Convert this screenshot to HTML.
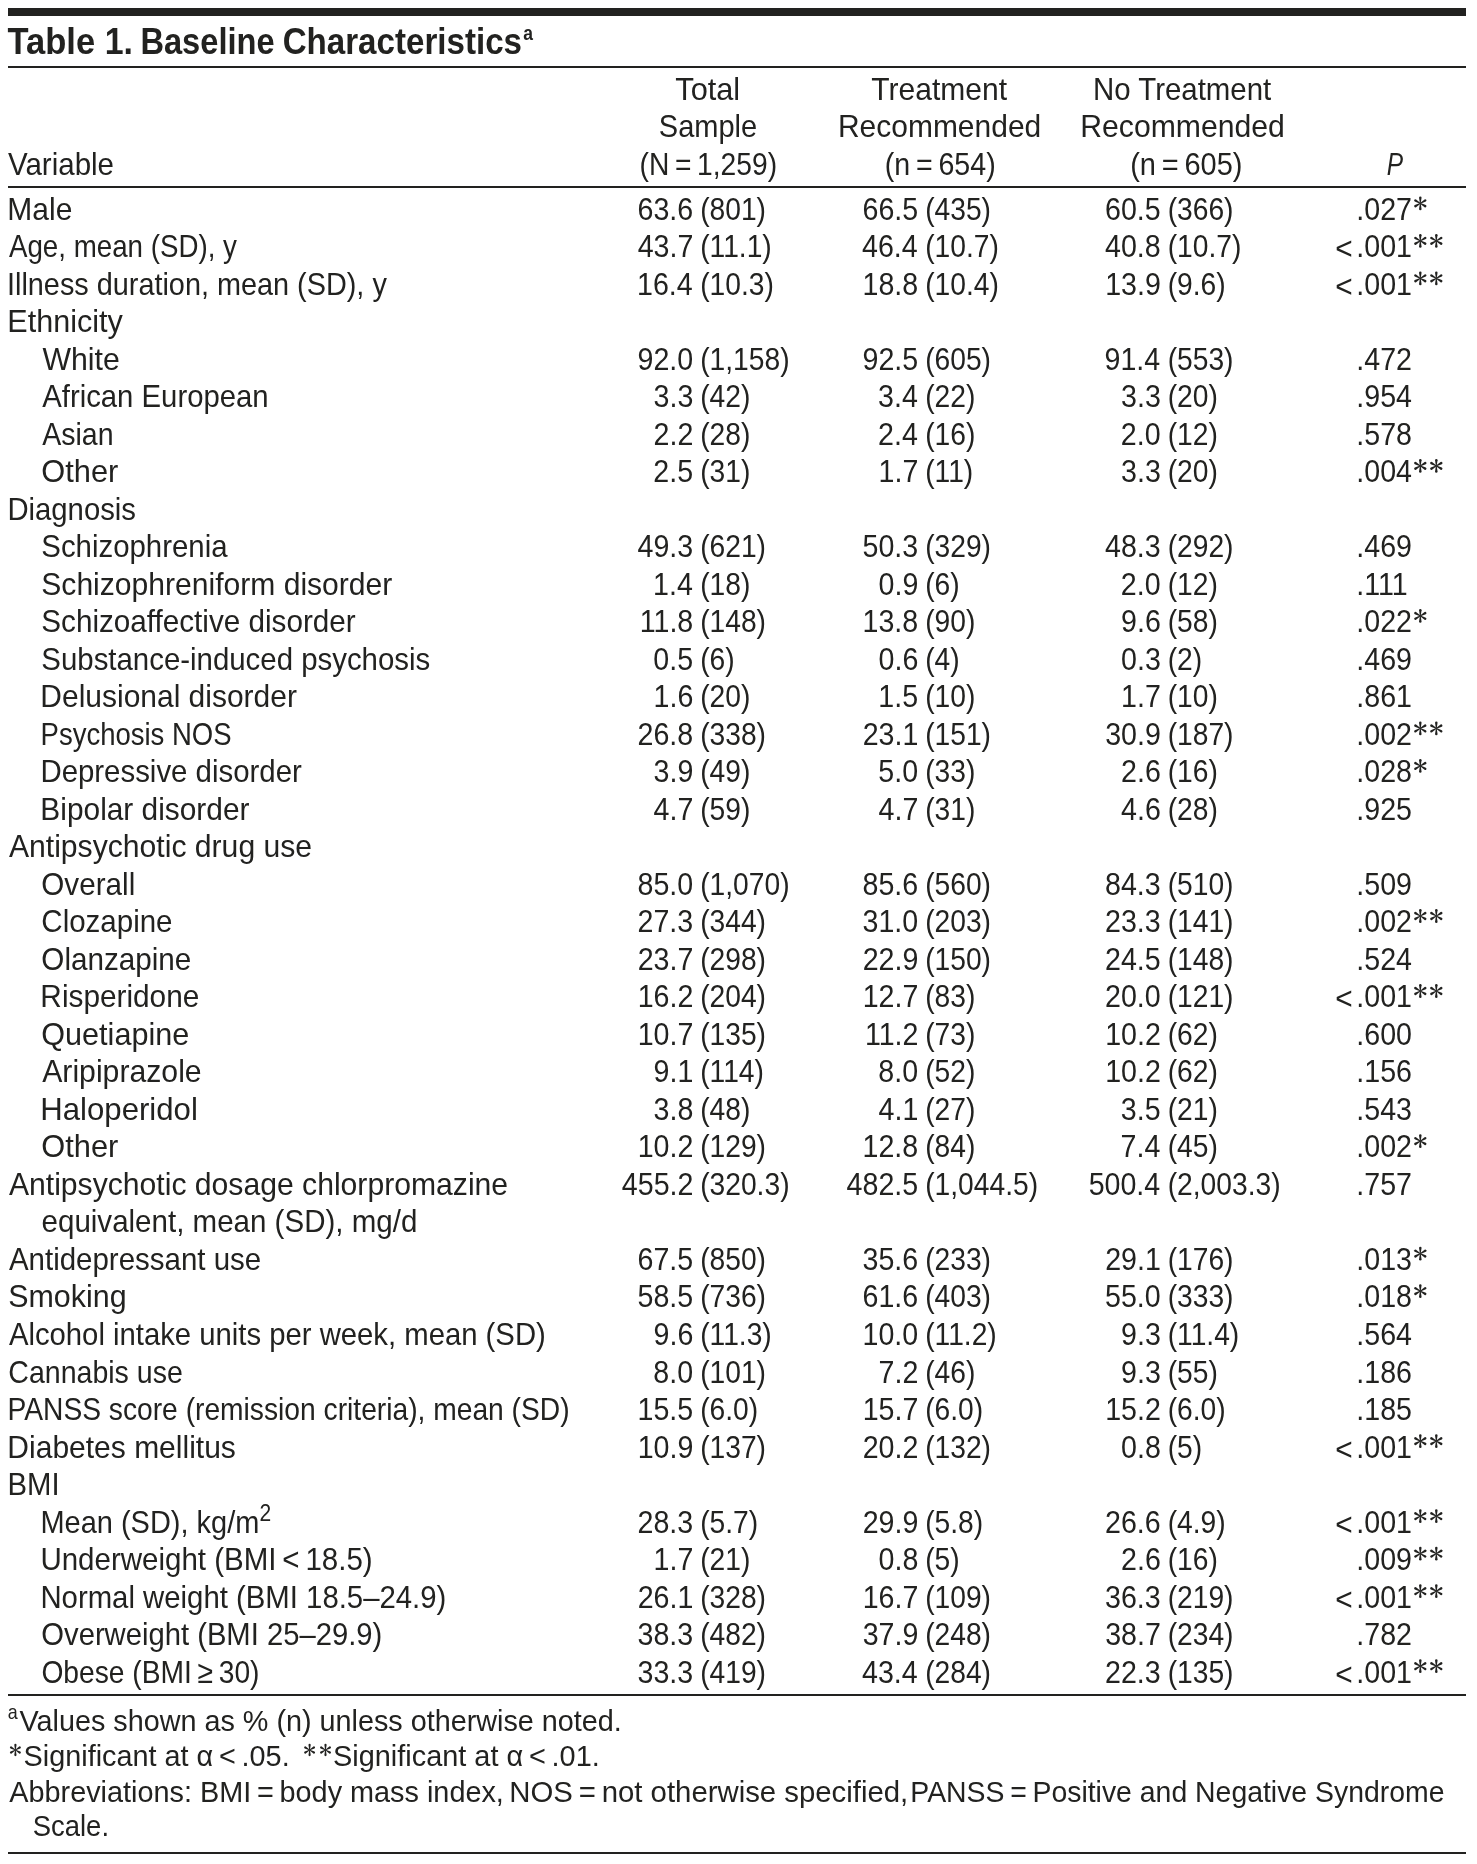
<!DOCTYPE html>
<html><head><meta charset="utf-8"><title>Table 1. Baseline Characteristics</title>
<style>
html,body{margin:0;padding:0;background:#fff;}
body{width:1477px;height:1864px;overflow:hidden;}
svg{display:block;will-change:transform;}
text{font-family:"Liberation Sans",sans-serif;font-size:32px;fill:#222220;}
</style></head><body>
<svg width="1477" height="1864" viewBox="0 0 1477 1864">
<rect x="8" y="8" width="1458" height="8" fill="#222220"/>
<rect x="8" y="66" width="1458" height="2" fill="#222220"/>
<rect x="8" y="186" width="1458" height="2" fill="#222220"/>
<rect x="8" y="1694" width="1458" height="2" fill="#222220"/>
<rect x="8" y="1852" width="1458" height="2" fill="#222220"/>
<text transform="translate(7.53,53.90) scale(0.9333,1)" style="font-size:37px;font-weight:bold">Table</text>
<text transform="translate(104.74,53.90) scale(0.9154,1)" style="font-size:37px;font-weight:bold">1.</text>
<text transform="translate(140.39,53.90) scale(0.8822,1)" style="font-size:37px;font-weight:bold">Baseline</text>
<text transform="translate(282.66,53.90) scale(0.8953,1)" style="font-size:37px;font-weight:bold">Characteristics</text>
<text transform="translate(523.16,39.50) scale(0.8744,1)" style="font-size:20px;font-weight:bold">a</text>
<text transform="translate(7.97,174.90) scale(0.9225,1)">Variable</text>
<text transform="translate(675.28,100.00) scale(0.9606,1)">Total</text>
<text transform="translate(658.84,137.30) scale(0.9071,1)">Sample</text>
<text transform="translate(639.54,174.60) scale(0.8822,1)">(N = 1,259)</text>
<text transform="translate(871.30,100.00) scale(0.9384,1)">Treatment</text>
<text transform="translate(837.96,137.30) scale(0.9369,1)">Recommended</text>
<text transform="translate(884.81,174.60) scale(0.8942,1)">(n = 654)</text>
<text transform="translate(1093.00,100.00) scale(0.9199,1)">No Treatment</text>
<text transform="translate(1080.24,137.30) scale(0.9431,1)">Recommended</text>
<text transform="translate(1130.19,174.60) scale(0.9058,1)">(n = 605)</text>
<text transform="translate(1386.73,174.60) scale(0.7654,1)" style="font-style:italic">P</text>
<text transform="translate(7.36,219.70) scale(0.9374,1)">Male</text>
<text transform="translate(637.47,219.70) scale(0.8940,1)">63.6</text>
<text transform="translate(700.14,219.70) scale(0.8820,1)">(801)</text>
<text transform="translate(862.47,219.70) scale(0.8940,1)">66.5</text>
<text transform="translate(925.14,219.70) scale(0.8820,1)">(435)</text>
<text transform="translate(1104.97,219.70) scale(0.8940,1)">60.5</text>
<text transform="translate(1167.64,219.70) scale(0.8820,1)">(366)</text>
<text transform="translate(1356.32,219.70) scale(0.8940,1)">.027</text>
<g transform="translate(1420.30,203.30) scale(1.0)" fill="#222220"><path d="M -0.4 0 L -1.25 -5.65 A 1.25 1.25 0 0 1 1.25 -5.65 L 0.4 0 Z" transform="rotate(0)"/><path d="M -0.4 0 L -1.25 -5.65 A 1.25 1.25 0 0 1 1.25 -5.65 L 0.4 0 Z" transform="rotate(60)"/><path d="M -0.4 0 L -1.25 -5.65 A 1.25 1.25 0 0 1 1.25 -5.65 L 0.4 0 Z" transform="rotate(120)"/><path d="M -0.4 0 L -1.25 -5.65 A 1.25 1.25 0 0 1 1.25 -5.65 L 0.4 0 Z" transform="rotate(180)"/><path d="M -0.4 0 L -1.25 -5.65 A 1.25 1.25 0 0 1 1.25 -5.65 L 0.4 0 Z" transform="rotate(240)"/><path d="M -0.4 0 L -1.25 -5.65 A 1.25 1.25 0 0 1 1.25 -5.65 L 0.4 0 Z" transform="rotate(300)"/></g>
<text transform="translate(8.90,257.21) scale(0.8665,1)">Age, mean (SD), y</text>
<text transform="translate(637.69,257.21) scale(0.8940,1)">43.7</text>
<text transform="translate(700.14,257.21) scale(0.8820,1)">(11.1)</text>
<text transform="translate(862.02,257.21) scale(0.8940,1)">46.4</text>
<text transform="translate(925.14,257.21) scale(0.8820,1)">(10.7)</text>
<text transform="translate(1104.97,257.21) scale(0.8940,1)">40.8</text>
<text transform="translate(1167.64,257.21) scale(0.8820,1)">(10.7)</text>
<text transform="translate(1335.21,259.21) scale(0.9330,1)">&lt;</text>
<text transform="translate(1356.32,257.21) scale(0.8940,1)">.001</text>
<g transform="translate(1420.30,240.81) scale(1.0)" fill="#222220"><path d="M -0.4 0 L -1.25 -5.65 A 1.25 1.25 0 0 1 1.25 -5.65 L 0.4 0 Z" transform="rotate(0)"/><path d="M -0.4 0 L -1.25 -5.65 A 1.25 1.25 0 0 1 1.25 -5.65 L 0.4 0 Z" transform="rotate(60)"/><path d="M -0.4 0 L -1.25 -5.65 A 1.25 1.25 0 0 1 1.25 -5.65 L 0.4 0 Z" transform="rotate(120)"/><path d="M -0.4 0 L -1.25 -5.65 A 1.25 1.25 0 0 1 1.25 -5.65 L 0.4 0 Z" transform="rotate(180)"/><path d="M -0.4 0 L -1.25 -5.65 A 1.25 1.25 0 0 1 1.25 -5.65 L 0.4 0 Z" transform="rotate(240)"/><path d="M -0.4 0 L -1.25 -5.65 A 1.25 1.25 0 0 1 1.25 -5.65 L 0.4 0 Z" transform="rotate(300)"/></g>
<g transform="translate(1436.30,240.81) scale(1.0)" fill="#222220"><path d="M -0.4 0 L -1.25 -5.65 A 1.25 1.25 0 0 1 1.25 -5.65 L 0.4 0 Z" transform="rotate(0)"/><path d="M -0.4 0 L -1.25 -5.65 A 1.25 1.25 0 0 1 1.25 -5.65 L 0.4 0 Z" transform="rotate(60)"/><path d="M -0.4 0 L -1.25 -5.65 A 1.25 1.25 0 0 1 1.25 -5.65 L 0.4 0 Z" transform="rotate(120)"/><path d="M -0.4 0 L -1.25 -5.65 A 1.25 1.25 0 0 1 1.25 -5.65 L 0.4 0 Z" transform="rotate(180)"/><path d="M -0.4 0 L -1.25 -5.65 A 1.25 1.25 0 0 1 1.25 -5.65 L 0.4 0 Z" transform="rotate(240)"/><path d="M -0.4 0 L -1.25 -5.65 A 1.25 1.25 0 0 1 1.25 -5.65 L 0.4 0 Z" transform="rotate(300)"/></g>
<text transform="translate(7.00,294.72) scale(0.9014,1)">Illness duration, mean (SD), y</text>
<text transform="translate(637.02,294.72) scale(0.8940,1)">16.4</text>
<text transform="translate(700.14,294.72) scale(0.8820,1)">(10.3)</text>
<text transform="translate(862.47,294.72) scale(0.8940,1)">18.8</text>
<text transform="translate(925.14,294.72) scale(0.8820,1)">(10.4)</text>
<text transform="translate(1105.19,294.72) scale(0.8940,1)">13.9</text>
<text transform="translate(1167.64,294.72) scale(0.8820,1)">(9.6)</text>
<text transform="translate(1335.21,296.72) scale(0.9330,1)">&lt;</text>
<text transform="translate(1356.32,294.72) scale(0.8940,1)">.001</text>
<g transform="translate(1420.30,278.32) scale(1.0)" fill="#222220"><path d="M -0.4 0 L -1.25 -5.65 A 1.25 1.25 0 0 1 1.25 -5.65 L 0.4 0 Z" transform="rotate(0)"/><path d="M -0.4 0 L -1.25 -5.65 A 1.25 1.25 0 0 1 1.25 -5.65 L 0.4 0 Z" transform="rotate(60)"/><path d="M -0.4 0 L -1.25 -5.65 A 1.25 1.25 0 0 1 1.25 -5.65 L 0.4 0 Z" transform="rotate(120)"/><path d="M -0.4 0 L -1.25 -5.65 A 1.25 1.25 0 0 1 1.25 -5.65 L 0.4 0 Z" transform="rotate(180)"/><path d="M -0.4 0 L -1.25 -5.65 A 1.25 1.25 0 0 1 1.25 -5.65 L 0.4 0 Z" transform="rotate(240)"/><path d="M -0.4 0 L -1.25 -5.65 A 1.25 1.25 0 0 1 1.25 -5.65 L 0.4 0 Z" transform="rotate(300)"/></g>
<g transform="translate(1436.30,278.32) scale(1.0)" fill="#222220"><path d="M -0.4 0 L -1.25 -5.65 A 1.25 1.25 0 0 1 1.25 -5.65 L 0.4 0 Z" transform="rotate(0)"/><path d="M -0.4 0 L -1.25 -5.65 A 1.25 1.25 0 0 1 1.25 -5.65 L 0.4 0 Z" transform="rotate(60)"/><path d="M -0.4 0 L -1.25 -5.65 A 1.25 1.25 0 0 1 1.25 -5.65 L 0.4 0 Z" transform="rotate(120)"/><path d="M -0.4 0 L -1.25 -5.65 A 1.25 1.25 0 0 1 1.25 -5.65 L 0.4 0 Z" transform="rotate(180)"/><path d="M -0.4 0 L -1.25 -5.65 A 1.25 1.25 0 0 1 1.25 -5.65 L 0.4 0 Z" transform="rotate(240)"/><path d="M -0.4 0 L -1.25 -5.65 A 1.25 1.25 0 0 1 1.25 -5.65 L 0.4 0 Z" transform="rotate(300)"/></g>
<text transform="translate(7.31,332.23) scale(0.9556,1)">Ethnicity</text>
<text transform="translate(42.46,369.74) scale(0.9458,1)">White</text>
<text transform="translate(637.47,369.74) scale(0.8940,1)">92.0</text>
<text transform="translate(700.14,369.74) scale(0.8820,1)">(1,158)</text>
<text transform="translate(862.47,369.74) scale(0.8940,1)">92.5</text>
<text transform="translate(925.14,369.74) scale(0.8820,1)">(605)</text>
<text transform="translate(1104.52,369.74) scale(0.8940,1)">91.4</text>
<text transform="translate(1167.64,369.74) scale(0.8820,1)">(553)</text>
<text transform="translate(1356.32,369.74) scale(0.8940,1)">.472</text>
<text transform="translate(42.20,407.25) scale(0.9162,1)">African European</text>
<text transform="translate(653.56,407.25) scale(0.8940,1)">3.3</text>
<text transform="translate(700.14,407.25) scale(0.8820,1)">(42)</text>
<text transform="translate(878.11,407.25) scale(0.8940,1)">3.4</text>
<text transform="translate(925.14,407.25) scale(0.8820,1)">(22)</text>
<text transform="translate(1121.06,407.25) scale(0.8940,1)">3.3</text>
<text transform="translate(1167.64,407.25) scale(0.8820,1)">(20)</text>
<text transform="translate(1356.32,407.25) scale(0.8940,1)">.954</text>
<text transform="translate(42.20,444.76) scale(0.8910,1)">Asian</text>
<text transform="translate(653.56,444.76) scale(0.8940,1)">2.2</text>
<text transform="translate(700.14,444.76) scale(0.8820,1)">(28)</text>
<text transform="translate(878.11,444.76) scale(0.8940,1)">2.4</text>
<text transform="translate(925.14,444.76) scale(0.8820,1)">(16)</text>
<text transform="translate(1120.83,444.76) scale(0.8940,1)">2.0</text>
<text transform="translate(1167.64,444.76) scale(0.8820,1)">(12)</text>
<text transform="translate(1356.32,444.76) scale(0.8940,1)">.578</text>
<text transform="translate(41.26,482.27) scale(0.9628,1)">Other</text>
<text transform="translate(653.33,482.27) scale(0.8940,1)">2.5</text>
<text transform="translate(700.14,482.27) scale(0.8820,1)">(31)</text>
<text transform="translate(878.56,482.27) scale(0.8940,1)">1.7</text>
<text transform="translate(925.14,482.27) scale(0.8820,1)">(11)</text>
<text transform="translate(1121.06,482.27) scale(0.8940,1)">3.3</text>
<text transform="translate(1167.64,482.27) scale(0.8820,1)">(20)</text>
<text transform="translate(1356.32,482.27) scale(0.8940,1)">.004</text>
<g transform="translate(1420.30,465.87) scale(1.0)" fill="#222220"><path d="M -0.4 0 L -1.25 -5.65 A 1.25 1.25 0 0 1 1.25 -5.65 L 0.4 0 Z" transform="rotate(0)"/><path d="M -0.4 0 L -1.25 -5.65 A 1.25 1.25 0 0 1 1.25 -5.65 L 0.4 0 Z" transform="rotate(60)"/><path d="M -0.4 0 L -1.25 -5.65 A 1.25 1.25 0 0 1 1.25 -5.65 L 0.4 0 Z" transform="rotate(120)"/><path d="M -0.4 0 L -1.25 -5.65 A 1.25 1.25 0 0 1 1.25 -5.65 L 0.4 0 Z" transform="rotate(180)"/><path d="M -0.4 0 L -1.25 -5.65 A 1.25 1.25 0 0 1 1.25 -5.65 L 0.4 0 Z" transform="rotate(240)"/><path d="M -0.4 0 L -1.25 -5.65 A 1.25 1.25 0 0 1 1.25 -5.65 L 0.4 0 Z" transform="rotate(300)"/></g>
<g transform="translate(1436.30,465.87) scale(1.0)" fill="#222220"><path d="M -0.4 0 L -1.25 -5.65 A 1.25 1.25 0 0 1 1.25 -5.65 L 0.4 0 Z" transform="rotate(0)"/><path d="M -0.4 0 L -1.25 -5.65 A 1.25 1.25 0 0 1 1.25 -5.65 L 0.4 0 Z" transform="rotate(60)"/><path d="M -0.4 0 L -1.25 -5.65 A 1.25 1.25 0 0 1 1.25 -5.65 L 0.4 0 Z" transform="rotate(120)"/><path d="M -0.4 0 L -1.25 -5.65 A 1.25 1.25 0 0 1 1.25 -5.65 L 0.4 0 Z" transform="rotate(180)"/><path d="M -0.4 0 L -1.25 -5.65 A 1.25 1.25 0 0 1 1.25 -5.65 L 0.4 0 Z" transform="rotate(240)"/><path d="M -0.4 0 L -1.25 -5.65 A 1.25 1.25 0 0 1 1.25 -5.65 L 0.4 0 Z" transform="rotate(300)"/></g>
<text transform="translate(7.41,519.78) scale(0.9155,1)">Diagnosis</text>
<text transform="translate(41.32,557.29) scale(0.9183,1)">Schizophrenia</text>
<text transform="translate(637.47,557.29) scale(0.8940,1)">49.3</text>
<text transform="translate(700.14,557.29) scale(0.8820,1)">(621)</text>
<text transform="translate(862.47,557.29) scale(0.8940,1)">50.3</text>
<text transform="translate(925.14,557.29) scale(0.8820,1)">(329)</text>
<text transform="translate(1104.97,557.29) scale(0.8940,1)">48.3</text>
<text transform="translate(1167.64,557.29) scale(0.8820,1)">(292)</text>
<text transform="translate(1356.32,557.29) scale(0.8940,1)">.469</text>
<text transform="translate(41.29,594.80) scale(0.9402,1)">Schizophreniform disorder</text>
<text transform="translate(653.11,594.80) scale(0.8940,1)">1.4</text>
<text transform="translate(700.14,594.80) scale(0.8820,1)">(18)</text>
<text transform="translate(878.56,594.80) scale(0.8940,1)">0.9</text>
<text transform="translate(925.14,594.80) scale(0.8820,1)">(6)</text>
<text transform="translate(1120.83,594.80) scale(0.8940,1)">2.0</text>
<text transform="translate(1167.64,594.80) scale(0.8820,1)">(12)</text>
<text transform="translate(1356.32,594.80) scale(0.8940,1)">.111</text>
<text transform="translate(41.31,632.31) scale(0.9272,1)">Schizoaffective disorder</text>
<text transform="translate(639.70,632.31) scale(0.8940,1)">11.8</text>
<text transform="translate(700.14,632.31) scale(0.8820,1)">(148)</text>
<text transform="translate(862.47,632.31) scale(0.8940,1)">13.8</text>
<text transform="translate(925.14,632.31) scale(0.8820,1)">(90)</text>
<text transform="translate(1121.06,632.31) scale(0.8940,1)">9.6</text>
<text transform="translate(1167.64,632.31) scale(0.8820,1)">(58)</text>
<text transform="translate(1356.32,632.31) scale(0.8940,1)">.022</text>
<g transform="translate(1420.30,615.91) scale(1.0)" fill="#222220"><path d="M -0.4 0 L -1.25 -5.65 A 1.25 1.25 0 0 1 1.25 -5.65 L 0.4 0 Z" transform="rotate(0)"/><path d="M -0.4 0 L -1.25 -5.65 A 1.25 1.25 0 0 1 1.25 -5.65 L 0.4 0 Z" transform="rotate(60)"/><path d="M -0.4 0 L -1.25 -5.65 A 1.25 1.25 0 0 1 1.25 -5.65 L 0.4 0 Z" transform="rotate(120)"/><path d="M -0.4 0 L -1.25 -5.65 A 1.25 1.25 0 0 1 1.25 -5.65 L 0.4 0 Z" transform="rotate(180)"/><path d="M -0.4 0 L -1.25 -5.65 A 1.25 1.25 0 0 1 1.25 -5.65 L 0.4 0 Z" transform="rotate(240)"/><path d="M -0.4 0 L -1.25 -5.65 A 1.25 1.25 0 0 1 1.25 -5.65 L 0.4 0 Z" transform="rotate(300)"/></g>
<text transform="translate(41.32,669.82) scale(0.9191,1)">Substance-induced psychosis</text>
<text transform="translate(653.33,669.82) scale(0.8940,1)">0.5</text>
<text transform="translate(700.14,669.82) scale(0.8820,1)">(6)</text>
<text transform="translate(878.56,669.82) scale(0.8940,1)">0.6</text>
<text transform="translate(925.14,669.82) scale(0.8820,1)">(4)</text>
<text transform="translate(1121.06,669.82) scale(0.8940,1)">0.3</text>
<text transform="translate(1167.64,669.82) scale(0.8820,1)">(2)</text>
<text transform="translate(1356.32,669.82) scale(0.8940,1)">.469</text>
<text transform="translate(40.36,707.33) scale(0.9365,1)">Delusional disorder</text>
<text transform="translate(653.56,707.33) scale(0.8940,1)">1.6</text>
<text transform="translate(700.14,707.33) scale(0.8820,1)">(20)</text>
<text transform="translate(878.33,707.33) scale(0.8940,1)">1.5</text>
<text transform="translate(925.14,707.33) scale(0.8820,1)">(10)</text>
<text transform="translate(1121.06,707.33) scale(0.8940,1)">1.7</text>
<text transform="translate(1167.64,707.33) scale(0.8820,1)">(10)</text>
<text transform="translate(1356.32,707.33) scale(0.8940,1)">.861</text>
<text transform="translate(40.55,744.84) scale(0.8596,1)">Psychosis NOS</text>
<text transform="translate(637.47,744.84) scale(0.8940,1)">26.8</text>
<text transform="translate(700.14,744.84) scale(0.8820,1)">(338)</text>
<text transform="translate(862.69,744.84) scale(0.8940,1)">23.1</text>
<text transform="translate(925.14,744.84) scale(0.8820,1)">(151)</text>
<text transform="translate(1105.19,744.84) scale(0.8940,1)">30.9</text>
<text transform="translate(1167.64,744.84) scale(0.8820,1)">(187)</text>
<text transform="translate(1356.32,744.84) scale(0.8940,1)">.002</text>
<g transform="translate(1420.30,728.44) scale(1.0)" fill="#222220"><path d="M -0.4 0 L -1.25 -5.65 A 1.25 1.25 0 0 1 1.25 -5.65 L 0.4 0 Z" transform="rotate(0)"/><path d="M -0.4 0 L -1.25 -5.65 A 1.25 1.25 0 0 1 1.25 -5.65 L 0.4 0 Z" transform="rotate(60)"/><path d="M -0.4 0 L -1.25 -5.65 A 1.25 1.25 0 0 1 1.25 -5.65 L 0.4 0 Z" transform="rotate(120)"/><path d="M -0.4 0 L -1.25 -5.65 A 1.25 1.25 0 0 1 1.25 -5.65 L 0.4 0 Z" transform="rotate(180)"/><path d="M -0.4 0 L -1.25 -5.65 A 1.25 1.25 0 0 1 1.25 -5.65 L 0.4 0 Z" transform="rotate(240)"/><path d="M -0.4 0 L -1.25 -5.65 A 1.25 1.25 0 0 1 1.25 -5.65 L 0.4 0 Z" transform="rotate(300)"/></g>
<g transform="translate(1436.30,728.44) scale(1.0)" fill="#222220"><path d="M -0.4 0 L -1.25 -5.65 A 1.25 1.25 0 0 1 1.25 -5.65 L 0.4 0 Z" transform="rotate(0)"/><path d="M -0.4 0 L -1.25 -5.65 A 1.25 1.25 0 0 1 1.25 -5.65 L 0.4 0 Z" transform="rotate(60)"/><path d="M -0.4 0 L -1.25 -5.65 A 1.25 1.25 0 0 1 1.25 -5.65 L 0.4 0 Z" transform="rotate(120)"/><path d="M -0.4 0 L -1.25 -5.65 A 1.25 1.25 0 0 1 1.25 -5.65 L 0.4 0 Z" transform="rotate(180)"/><path d="M -0.4 0 L -1.25 -5.65 A 1.25 1.25 0 0 1 1.25 -5.65 L 0.4 0 Z" transform="rotate(240)"/><path d="M -0.4 0 L -1.25 -5.65 A 1.25 1.25 0 0 1 1.25 -5.65 L 0.4 0 Z" transform="rotate(300)"/></g>
<text transform="translate(40.40,782.35) scale(0.9190,1)">Depressive disorder</text>
<text transform="translate(653.56,782.35) scale(0.8940,1)">3.9</text>
<text transform="translate(700.14,782.35) scale(0.8820,1)">(49)</text>
<text transform="translate(878.33,782.35) scale(0.8940,1)">5.0</text>
<text transform="translate(925.14,782.35) scale(0.8820,1)">(33)</text>
<text transform="translate(1121.06,782.35) scale(0.8940,1)">2.6</text>
<text transform="translate(1167.64,782.35) scale(0.8820,1)">(16)</text>
<text transform="translate(1356.32,782.35) scale(0.8940,1)">.028</text>
<g transform="translate(1420.30,765.95) scale(1.0)" fill="#222220"><path d="M -0.4 0 L -1.25 -5.65 A 1.25 1.25 0 0 1 1.25 -5.65 L 0.4 0 Z" transform="rotate(0)"/><path d="M -0.4 0 L -1.25 -5.65 A 1.25 1.25 0 0 1 1.25 -5.65 L 0.4 0 Z" transform="rotate(60)"/><path d="M -0.4 0 L -1.25 -5.65 A 1.25 1.25 0 0 1 1.25 -5.65 L 0.4 0 Z" transform="rotate(120)"/><path d="M -0.4 0 L -1.25 -5.65 A 1.25 1.25 0 0 1 1.25 -5.65 L 0.4 0 Z" transform="rotate(180)"/><path d="M -0.4 0 L -1.25 -5.65 A 1.25 1.25 0 0 1 1.25 -5.65 L 0.4 0 Z" transform="rotate(240)"/><path d="M -0.4 0 L -1.25 -5.65 A 1.25 1.25 0 0 1 1.25 -5.65 L 0.4 0 Z" transform="rotate(300)"/></g>
<text transform="translate(40.37,819.86) scale(0.9335,1)">Bipolar disorder</text>
<text transform="translate(653.56,819.86) scale(0.8940,1)">4.7</text>
<text transform="translate(700.14,819.86) scale(0.8820,1)">(59)</text>
<text transform="translate(878.56,819.86) scale(0.8940,1)">4.7</text>
<text transform="translate(925.14,819.86) scale(0.8820,1)">(31)</text>
<text transform="translate(1121.06,819.86) scale(0.8940,1)">4.6</text>
<text transform="translate(1167.64,819.86) scale(0.8820,1)">(28)</text>
<text transform="translate(1356.32,819.86) scale(0.8940,1)">.925</text>
<text transform="translate(8.90,857.37) scale(0.9420,1)">Antipsychotic drug use</text>
<text transform="translate(41.31,894.88) scale(0.9269,1)">Overall</text>
<text transform="translate(637.47,894.88) scale(0.8940,1)">85.0</text>
<text transform="translate(700.14,894.88) scale(0.8820,1)">(1,070)</text>
<text transform="translate(862.47,894.88) scale(0.8940,1)">85.6</text>
<text transform="translate(925.14,894.88) scale(0.8820,1)">(560)</text>
<text transform="translate(1104.97,894.88) scale(0.8940,1)">84.3</text>
<text transform="translate(1167.64,894.88) scale(0.8820,1)">(510)</text>
<text transform="translate(1356.32,894.88) scale(0.8940,1)">.509</text>
<text transform="translate(41.32,932.39) scale(0.9226,1)">Clozapine</text>
<text transform="translate(637.47,932.39) scale(0.8940,1)">27.3</text>
<text transform="translate(700.14,932.39) scale(0.8820,1)">(344)</text>
<text transform="translate(862.47,932.39) scale(0.8940,1)">31.0</text>
<text transform="translate(925.14,932.39) scale(0.8820,1)">(203)</text>
<text transform="translate(1104.97,932.39) scale(0.8940,1)">23.3</text>
<text transform="translate(1167.64,932.39) scale(0.8820,1)">(141)</text>
<text transform="translate(1356.32,932.39) scale(0.8940,1)">.002</text>
<g transform="translate(1420.30,915.99) scale(1.0)" fill="#222220"><path d="M -0.4 0 L -1.25 -5.65 A 1.25 1.25 0 0 1 1.25 -5.65 L 0.4 0 Z" transform="rotate(0)"/><path d="M -0.4 0 L -1.25 -5.65 A 1.25 1.25 0 0 1 1.25 -5.65 L 0.4 0 Z" transform="rotate(60)"/><path d="M -0.4 0 L -1.25 -5.65 A 1.25 1.25 0 0 1 1.25 -5.65 L 0.4 0 Z" transform="rotate(120)"/><path d="M -0.4 0 L -1.25 -5.65 A 1.25 1.25 0 0 1 1.25 -5.65 L 0.4 0 Z" transform="rotate(180)"/><path d="M -0.4 0 L -1.25 -5.65 A 1.25 1.25 0 0 1 1.25 -5.65 L 0.4 0 Z" transform="rotate(240)"/><path d="M -0.4 0 L -1.25 -5.65 A 1.25 1.25 0 0 1 1.25 -5.65 L 0.4 0 Z" transform="rotate(300)"/></g>
<g transform="translate(1436.30,915.99) scale(1.0)" fill="#222220"><path d="M -0.4 0 L -1.25 -5.65 A 1.25 1.25 0 0 1 1.25 -5.65 L 0.4 0 Z" transform="rotate(0)"/><path d="M -0.4 0 L -1.25 -5.65 A 1.25 1.25 0 0 1 1.25 -5.65 L 0.4 0 Z" transform="rotate(60)"/><path d="M -0.4 0 L -1.25 -5.65 A 1.25 1.25 0 0 1 1.25 -5.65 L 0.4 0 Z" transform="rotate(120)"/><path d="M -0.4 0 L -1.25 -5.65 A 1.25 1.25 0 0 1 1.25 -5.65 L 0.4 0 Z" transform="rotate(180)"/><path d="M -0.4 0 L -1.25 -5.65 A 1.25 1.25 0 0 1 1.25 -5.65 L 0.4 0 Z" transform="rotate(240)"/><path d="M -0.4 0 L -1.25 -5.65 A 1.25 1.25 0 0 1 1.25 -5.65 L 0.4 0 Z" transform="rotate(300)"/></g>
<text transform="translate(41.31,969.90) scale(0.9270,1)">Olanzapine</text>
<text transform="translate(637.69,969.90) scale(0.8940,1)">23.7</text>
<text transform="translate(700.14,969.90) scale(0.8820,1)">(298)</text>
<text transform="translate(862.69,969.90) scale(0.8940,1)">22.9</text>
<text transform="translate(925.14,969.90) scale(0.8820,1)">(150)</text>
<text transform="translate(1104.97,969.90) scale(0.8940,1)">24.5</text>
<text transform="translate(1167.64,969.90) scale(0.8820,1)">(148)</text>
<text transform="translate(1356.32,969.90) scale(0.8940,1)">.524</text>
<text transform="translate(40.37,1007.41) scale(0.9311,1)">Risperidone</text>
<text transform="translate(637.69,1007.41) scale(0.8940,1)">16.2</text>
<text transform="translate(700.14,1007.41) scale(0.8820,1)">(204)</text>
<text transform="translate(862.69,1007.41) scale(0.8940,1)">12.7</text>
<text transform="translate(925.14,1007.41) scale(0.8820,1)">(83)</text>
<text transform="translate(1104.97,1007.41) scale(0.8940,1)">20.0</text>
<text transform="translate(1167.64,1007.41) scale(0.8820,1)">(121)</text>
<text transform="translate(1335.21,1009.41) scale(0.9330,1)">&lt;</text>
<text transform="translate(1356.32,1007.41) scale(0.8940,1)">.001</text>
<g transform="translate(1420.30,991.01) scale(1.0)" fill="#222220"><path d="M -0.4 0 L -1.25 -5.65 A 1.25 1.25 0 0 1 1.25 -5.65 L 0.4 0 Z" transform="rotate(0)"/><path d="M -0.4 0 L -1.25 -5.65 A 1.25 1.25 0 0 1 1.25 -5.65 L 0.4 0 Z" transform="rotate(60)"/><path d="M -0.4 0 L -1.25 -5.65 A 1.25 1.25 0 0 1 1.25 -5.65 L 0.4 0 Z" transform="rotate(120)"/><path d="M -0.4 0 L -1.25 -5.65 A 1.25 1.25 0 0 1 1.25 -5.65 L 0.4 0 Z" transform="rotate(180)"/><path d="M -0.4 0 L -1.25 -5.65 A 1.25 1.25 0 0 1 1.25 -5.65 L 0.4 0 Z" transform="rotate(240)"/><path d="M -0.4 0 L -1.25 -5.65 A 1.25 1.25 0 0 1 1.25 -5.65 L 0.4 0 Z" transform="rotate(300)"/></g>
<g transform="translate(1436.30,991.01) scale(1.0)" fill="#222220"><path d="M -0.4 0 L -1.25 -5.65 A 1.25 1.25 0 0 1 1.25 -5.65 L 0.4 0 Z" transform="rotate(0)"/><path d="M -0.4 0 L -1.25 -5.65 A 1.25 1.25 0 0 1 1.25 -5.65 L 0.4 0 Z" transform="rotate(60)"/><path d="M -0.4 0 L -1.25 -5.65 A 1.25 1.25 0 0 1 1.25 -5.65 L 0.4 0 Z" transform="rotate(120)"/><path d="M -0.4 0 L -1.25 -5.65 A 1.25 1.25 0 0 1 1.25 -5.65 L 0.4 0 Z" transform="rotate(180)"/><path d="M -0.4 0 L -1.25 -5.65 A 1.25 1.25 0 0 1 1.25 -5.65 L 0.4 0 Z" transform="rotate(240)"/><path d="M -0.4 0 L -1.25 -5.65 A 1.25 1.25 0 0 1 1.25 -5.65 L 0.4 0 Z" transform="rotate(300)"/></g>
<text transform="translate(41.27,1044.92) scale(0.9566,1)">Quetiapine</text>
<text transform="translate(637.69,1044.92) scale(0.8940,1)">10.7</text>
<text transform="translate(700.14,1044.92) scale(0.8820,1)">(135)</text>
<text transform="translate(864.92,1044.92) scale(0.8940,1)">11.2</text>
<text transform="translate(925.14,1044.92) scale(0.8820,1)">(73)</text>
<text transform="translate(1105.19,1044.92) scale(0.8940,1)">10.2</text>
<text transform="translate(1167.64,1044.92) scale(0.8820,1)">(62)</text>
<text transform="translate(1356.32,1044.92) scale(0.8940,1)">.600</text>
<text transform="translate(42.20,1082.43) scale(0.9439,1)">Aripiprazole</text>
<text transform="translate(653.56,1082.43) scale(0.8940,1)">9.1</text>
<text transform="translate(700.14,1082.43) scale(0.8820,1)">(114)</text>
<text transform="translate(878.33,1082.43) scale(0.8940,1)">8.0</text>
<text transform="translate(925.14,1082.43) scale(0.8820,1)">(52)</text>
<text transform="translate(1105.19,1082.43) scale(0.8940,1)">10.2</text>
<text transform="translate(1167.64,1082.43) scale(0.8820,1)">(62)</text>
<text transform="translate(1356.32,1082.43) scale(0.8940,1)">.156</text>
<text transform="translate(40.27,1119.94) scale(0.9736,1)">Haloperidol</text>
<text transform="translate(653.56,1119.94) scale(0.8940,1)">3.8</text>
<text transform="translate(700.14,1119.94) scale(0.8820,1)">(48)</text>
<text transform="translate(878.56,1119.94) scale(0.8940,1)">4.1</text>
<text transform="translate(925.14,1119.94) scale(0.8820,1)">(27)</text>
<text transform="translate(1120.83,1119.94) scale(0.8940,1)">3.5</text>
<text transform="translate(1167.64,1119.94) scale(0.8820,1)">(21)</text>
<text transform="translate(1356.32,1119.94) scale(0.8940,1)">.543</text>
<text transform="translate(41.26,1157.45) scale(0.9628,1)">Other</text>
<text transform="translate(637.69,1157.45) scale(0.8940,1)">10.2</text>
<text transform="translate(700.14,1157.45) scale(0.8820,1)">(129)</text>
<text transform="translate(862.47,1157.45) scale(0.8940,1)">12.8</text>
<text transform="translate(925.14,1157.45) scale(0.8820,1)">(84)</text>
<text transform="translate(1120.61,1157.45) scale(0.8940,1)">7.4</text>
<text transform="translate(1167.64,1157.45) scale(0.8820,1)">(45)</text>
<text transform="translate(1356.32,1157.45) scale(0.8940,1)">.002</text>
<g transform="translate(1420.30,1141.05) scale(1.0)" fill="#222220"><path d="M -0.4 0 L -1.25 -5.65 A 1.25 1.25 0 0 1 1.25 -5.65 L 0.4 0 Z" transform="rotate(0)"/><path d="M -0.4 0 L -1.25 -5.65 A 1.25 1.25 0 0 1 1.25 -5.65 L 0.4 0 Z" transform="rotate(60)"/><path d="M -0.4 0 L -1.25 -5.65 A 1.25 1.25 0 0 1 1.25 -5.65 L 0.4 0 Z" transform="rotate(120)"/><path d="M -0.4 0 L -1.25 -5.65 A 1.25 1.25 0 0 1 1.25 -5.65 L 0.4 0 Z" transform="rotate(180)"/><path d="M -0.4 0 L -1.25 -5.65 A 1.25 1.25 0 0 1 1.25 -5.65 L 0.4 0 Z" transform="rotate(240)"/><path d="M -0.4 0 L -1.25 -5.65 A 1.25 1.25 0 0 1 1.25 -5.65 L 0.4 0 Z" transform="rotate(300)"/></g>
<text transform="translate(8.90,1194.96) scale(0.9420,1)">Antipsychotic dosage chlorpromazine</text>
<text transform="translate(621.82,1194.96) scale(0.8940,1)">455.2</text>
<text transform="translate(700.14,1194.96) scale(0.8820,1)">(320.3)</text>
<text transform="translate(846.60,1194.96) scale(0.8940,1)">482.5</text>
<text transform="translate(925.14,1194.96) scale(0.8820,1)">(1,044.5)</text>
<text transform="translate(1088.65,1194.96) scale(0.8940,1)">500.4</text>
<text transform="translate(1167.64,1194.96) scale(0.8820,1)">(2,003.3)</text>
<text transform="translate(1356.32,1194.96) scale(0.8940,1)">.757</text>
<text transform="translate(41.55,1232.47) scale(0.9230,1)">equivalent, mean (SD), mg/d</text>
<text transform="translate(8.90,1269.98) scale(0.9215,1)">Antidepressant use</text>
<text transform="translate(637.47,1269.98) scale(0.8940,1)">67.5</text>
<text transform="translate(700.14,1269.98) scale(0.8820,1)">(850)</text>
<text transform="translate(862.47,1269.98) scale(0.8940,1)">35.6</text>
<text transform="translate(925.14,1269.98) scale(0.8820,1)">(233)</text>
<text transform="translate(1105.19,1269.98) scale(0.8940,1)">29.1</text>
<text transform="translate(1167.64,1269.98) scale(0.8820,1)">(176)</text>
<text transform="translate(1356.32,1269.98) scale(0.8940,1)">.013</text>
<g transform="translate(1420.30,1253.58) scale(1.0)" fill="#222220"><path d="M -0.4 0 L -1.25 -5.65 A 1.25 1.25 0 0 1 1.25 -5.65 L 0.4 0 Z" transform="rotate(0)"/><path d="M -0.4 0 L -1.25 -5.65 A 1.25 1.25 0 0 1 1.25 -5.65 L 0.4 0 Z" transform="rotate(60)"/><path d="M -0.4 0 L -1.25 -5.65 A 1.25 1.25 0 0 1 1.25 -5.65 L 0.4 0 Z" transform="rotate(120)"/><path d="M -0.4 0 L -1.25 -5.65 A 1.25 1.25 0 0 1 1.25 -5.65 L 0.4 0 Z" transform="rotate(180)"/><path d="M -0.4 0 L -1.25 -5.65 A 1.25 1.25 0 0 1 1.25 -5.65 L 0.4 0 Z" transform="rotate(240)"/><path d="M -0.4 0 L -1.25 -5.65 A 1.25 1.25 0 0 1 1.25 -5.65 L 0.4 0 Z" transform="rotate(300)"/></g>
<text transform="translate(8.27,1307.49) scale(0.9504,1)">Smoking</text>
<text transform="translate(637.47,1307.49) scale(0.8940,1)">58.5</text>
<text transform="translate(700.14,1307.49) scale(0.8820,1)">(736)</text>
<text transform="translate(862.47,1307.49) scale(0.8940,1)">61.6</text>
<text transform="translate(925.14,1307.49) scale(0.8820,1)">(403)</text>
<text transform="translate(1104.97,1307.49) scale(0.8940,1)">55.0</text>
<text transform="translate(1167.64,1307.49) scale(0.8820,1)">(333)</text>
<text transform="translate(1356.32,1307.49) scale(0.8940,1)">.018</text>
<g transform="translate(1420.30,1291.09) scale(1.0)" fill="#222220"><path d="M -0.4 0 L -1.25 -5.65 A 1.25 1.25 0 0 1 1.25 -5.65 L 0.4 0 Z" transform="rotate(0)"/><path d="M -0.4 0 L -1.25 -5.65 A 1.25 1.25 0 0 1 1.25 -5.65 L 0.4 0 Z" transform="rotate(60)"/><path d="M -0.4 0 L -1.25 -5.65 A 1.25 1.25 0 0 1 1.25 -5.65 L 0.4 0 Z" transform="rotate(120)"/><path d="M -0.4 0 L -1.25 -5.65 A 1.25 1.25 0 0 1 1.25 -5.65 L 0.4 0 Z" transform="rotate(180)"/><path d="M -0.4 0 L -1.25 -5.65 A 1.25 1.25 0 0 1 1.25 -5.65 L 0.4 0 Z" transform="rotate(240)"/><path d="M -0.4 0 L -1.25 -5.65 A 1.25 1.25 0 0 1 1.25 -5.65 L 0.4 0 Z" transform="rotate(300)"/></g>
<text transform="translate(8.90,1345.00) scale(0.9152,1)">Alcohol intake units per week, mean (SD)</text>
<text transform="translate(653.56,1345.00) scale(0.8940,1)">9.6</text>
<text transform="translate(700.14,1345.00) scale(0.8820,1)">(11.3)</text>
<text transform="translate(862.47,1345.00) scale(0.8940,1)">10.0</text>
<text transform="translate(925.14,1345.00) scale(0.8820,1)">(11.2)</text>
<text transform="translate(1121.06,1345.00) scale(0.8940,1)">9.3</text>
<text transform="translate(1167.64,1345.00) scale(0.8820,1)">(11.4)</text>
<text transform="translate(1356.32,1345.00) scale(0.8940,1)">.564</text>
<text transform="translate(8.36,1382.51) scale(0.8918,1)">Cannabis use</text>
<text transform="translate(653.33,1382.51) scale(0.8940,1)">8.0</text>
<text transform="translate(700.14,1382.51) scale(0.8820,1)">(101)</text>
<text transform="translate(878.56,1382.51) scale(0.8940,1)">7.2</text>
<text transform="translate(925.14,1382.51) scale(0.8820,1)">(46)</text>
<text transform="translate(1121.06,1382.51) scale(0.8940,1)">9.3</text>
<text transform="translate(1167.64,1382.51) scale(0.8820,1)">(55)</text>
<text transform="translate(1356.32,1382.51) scale(0.8940,1)">.186</text>
<text transform="translate(7.50,1420.02) scale(0.8815,1)">PANSS score (remission criteria), mean (SD)</text>
<text transform="translate(637.47,1420.02) scale(0.8940,1)">15.5</text>
<text transform="translate(700.14,1420.02) scale(0.8820,1)">(6.0)</text>
<text transform="translate(862.69,1420.02) scale(0.8940,1)">15.7</text>
<text transform="translate(925.14,1420.02) scale(0.8820,1)">(6.0)</text>
<text transform="translate(1105.19,1420.02) scale(0.8940,1)">15.2</text>
<text transform="translate(1167.64,1420.02) scale(0.8820,1)">(6.0)</text>
<text transform="translate(1356.32,1420.02) scale(0.8940,1)">.185</text>
<text transform="translate(7.36,1457.53) scale(0.9379,1)">Diabetes mellitus</text>
<text transform="translate(637.69,1457.53) scale(0.8940,1)">10.9</text>
<text transform="translate(700.14,1457.53) scale(0.8820,1)">(137)</text>
<text transform="translate(862.69,1457.53) scale(0.8940,1)">20.2</text>
<text transform="translate(925.14,1457.53) scale(0.8820,1)">(132)</text>
<text transform="translate(1121.06,1457.53) scale(0.8940,1)">0.8</text>
<text transform="translate(1167.64,1457.53) scale(0.8820,1)">(5)</text>
<text transform="translate(1335.21,1459.53) scale(0.9330,1)">&lt;</text>
<text transform="translate(1356.32,1457.53) scale(0.8940,1)">.001</text>
<g transform="translate(1420.30,1441.13) scale(1.0)" fill="#222220"><path d="M -0.4 0 L -1.25 -5.65 A 1.25 1.25 0 0 1 1.25 -5.65 L 0.4 0 Z" transform="rotate(0)"/><path d="M -0.4 0 L -1.25 -5.65 A 1.25 1.25 0 0 1 1.25 -5.65 L 0.4 0 Z" transform="rotate(60)"/><path d="M -0.4 0 L -1.25 -5.65 A 1.25 1.25 0 0 1 1.25 -5.65 L 0.4 0 Z" transform="rotate(120)"/><path d="M -0.4 0 L -1.25 -5.65 A 1.25 1.25 0 0 1 1.25 -5.65 L 0.4 0 Z" transform="rotate(180)"/><path d="M -0.4 0 L -1.25 -5.65 A 1.25 1.25 0 0 1 1.25 -5.65 L 0.4 0 Z" transform="rotate(240)"/><path d="M -0.4 0 L -1.25 -5.65 A 1.25 1.25 0 0 1 1.25 -5.65 L 0.4 0 Z" transform="rotate(300)"/></g>
<g transform="translate(1436.30,1441.13) scale(1.0)" fill="#222220"><path d="M -0.4 0 L -1.25 -5.65 A 1.25 1.25 0 0 1 1.25 -5.65 L 0.4 0 Z" transform="rotate(0)"/><path d="M -0.4 0 L -1.25 -5.65 A 1.25 1.25 0 0 1 1.25 -5.65 L 0.4 0 Z" transform="rotate(60)"/><path d="M -0.4 0 L -1.25 -5.65 A 1.25 1.25 0 0 1 1.25 -5.65 L 0.4 0 Z" transform="rotate(120)"/><path d="M -0.4 0 L -1.25 -5.65 A 1.25 1.25 0 0 1 1.25 -5.65 L 0.4 0 Z" transform="rotate(180)"/><path d="M -0.4 0 L -1.25 -5.65 A 1.25 1.25 0 0 1 1.25 -5.65 L 0.4 0 Z" transform="rotate(240)"/><path d="M -0.4 0 L -1.25 -5.65 A 1.25 1.25 0 0 1 1.25 -5.65 L 0.4 0 Z" transform="rotate(300)"/></g>
<text transform="translate(7.41,1495.04) scale(0.9165,1)">BMI</text>
<text transform="translate(40.44,1532.55) scale(0.9058,1)">Mean (SD), kg/m</text>
<text transform="translate(259.56,1521.35) scale(0.9143,1)" style="font-size:23px">2</text>
<text transform="translate(637.47,1532.55) scale(0.8940,1)">28.3</text>
<text transform="translate(700.14,1532.55) scale(0.8820,1)">(5.7)</text>
<text transform="translate(862.69,1532.55) scale(0.8940,1)">29.9</text>
<text transform="translate(925.14,1532.55) scale(0.8820,1)">(5.8)</text>
<text transform="translate(1104.97,1532.55) scale(0.8940,1)">26.6</text>
<text transform="translate(1167.64,1532.55) scale(0.8820,1)">(4.9)</text>
<text transform="translate(1335.21,1534.55) scale(0.9330,1)">&lt;</text>
<text transform="translate(1356.32,1532.55) scale(0.8940,1)">.001</text>
<g transform="translate(1420.30,1516.15) scale(1.0)" fill="#222220"><path d="M -0.4 0 L -1.25 -5.65 A 1.25 1.25 0 0 1 1.25 -5.65 L 0.4 0 Z" transform="rotate(0)"/><path d="M -0.4 0 L -1.25 -5.65 A 1.25 1.25 0 0 1 1.25 -5.65 L 0.4 0 Z" transform="rotate(60)"/><path d="M -0.4 0 L -1.25 -5.65 A 1.25 1.25 0 0 1 1.25 -5.65 L 0.4 0 Z" transform="rotate(120)"/><path d="M -0.4 0 L -1.25 -5.65 A 1.25 1.25 0 0 1 1.25 -5.65 L 0.4 0 Z" transform="rotate(180)"/><path d="M -0.4 0 L -1.25 -5.65 A 1.25 1.25 0 0 1 1.25 -5.65 L 0.4 0 Z" transform="rotate(240)"/><path d="M -0.4 0 L -1.25 -5.65 A 1.25 1.25 0 0 1 1.25 -5.65 L 0.4 0 Z" transform="rotate(300)"/></g>
<g transform="translate(1436.30,1516.15) scale(1.0)" fill="#222220"><path d="M -0.4 0 L -1.25 -5.65 A 1.25 1.25 0 0 1 1.25 -5.65 L 0.4 0 Z" transform="rotate(0)"/><path d="M -0.4 0 L -1.25 -5.65 A 1.25 1.25 0 0 1 1.25 -5.65 L 0.4 0 Z" transform="rotate(60)"/><path d="M -0.4 0 L -1.25 -5.65 A 1.25 1.25 0 0 1 1.25 -5.65 L 0.4 0 Z" transform="rotate(120)"/><path d="M -0.4 0 L -1.25 -5.65 A 1.25 1.25 0 0 1 1.25 -5.65 L 0.4 0 Z" transform="rotate(180)"/><path d="M -0.4 0 L -1.25 -5.65 A 1.25 1.25 0 0 1 1.25 -5.65 L 0.4 0 Z" transform="rotate(240)"/><path d="M -0.4 0 L -1.25 -5.65 A 1.25 1.25 0 0 1 1.25 -5.65 L 0.4 0 Z" transform="rotate(300)"/></g>
<text transform="translate(40.40,1570.06) scale(0.9219,1)">Underweight (BMI &lt; 18.5)</text>
<text transform="translate(653.56,1570.06) scale(0.8940,1)">1.7</text>
<text transform="translate(700.14,1570.06) scale(0.8820,1)">(21)</text>
<text transform="translate(878.56,1570.06) scale(0.8940,1)">0.8</text>
<text transform="translate(925.14,1570.06) scale(0.8820,1)">(5)</text>
<text transform="translate(1121.06,1570.06) scale(0.8940,1)">2.6</text>
<text transform="translate(1167.64,1570.06) scale(0.8820,1)">(16)</text>
<text transform="translate(1356.32,1570.06) scale(0.8940,1)">.009</text>
<g transform="translate(1420.30,1553.66) scale(1.0)" fill="#222220"><path d="M -0.4 0 L -1.25 -5.65 A 1.25 1.25 0 0 1 1.25 -5.65 L 0.4 0 Z" transform="rotate(0)"/><path d="M -0.4 0 L -1.25 -5.65 A 1.25 1.25 0 0 1 1.25 -5.65 L 0.4 0 Z" transform="rotate(60)"/><path d="M -0.4 0 L -1.25 -5.65 A 1.25 1.25 0 0 1 1.25 -5.65 L 0.4 0 Z" transform="rotate(120)"/><path d="M -0.4 0 L -1.25 -5.65 A 1.25 1.25 0 0 1 1.25 -5.65 L 0.4 0 Z" transform="rotate(180)"/><path d="M -0.4 0 L -1.25 -5.65 A 1.25 1.25 0 0 1 1.25 -5.65 L 0.4 0 Z" transform="rotate(240)"/><path d="M -0.4 0 L -1.25 -5.65 A 1.25 1.25 0 0 1 1.25 -5.65 L 0.4 0 Z" transform="rotate(300)"/></g>
<g transform="translate(1436.30,1553.66) scale(1.0)" fill="#222220"><path d="M -0.4 0 L -1.25 -5.65 A 1.25 1.25 0 0 1 1.25 -5.65 L 0.4 0 Z" transform="rotate(0)"/><path d="M -0.4 0 L -1.25 -5.65 A 1.25 1.25 0 0 1 1.25 -5.65 L 0.4 0 Z" transform="rotate(60)"/><path d="M -0.4 0 L -1.25 -5.65 A 1.25 1.25 0 0 1 1.25 -5.65 L 0.4 0 Z" transform="rotate(120)"/><path d="M -0.4 0 L -1.25 -5.65 A 1.25 1.25 0 0 1 1.25 -5.65 L 0.4 0 Z" transform="rotate(180)"/><path d="M -0.4 0 L -1.25 -5.65 A 1.25 1.25 0 0 1 1.25 -5.65 L 0.4 0 Z" transform="rotate(240)"/><path d="M -0.4 0 L -1.25 -5.65 A 1.25 1.25 0 0 1 1.25 -5.65 L 0.4 0 Z" transform="rotate(300)"/></g>
<text transform="translate(40.41,1607.57) scale(0.9170,1)">Normal weight (BMI 18.5–24.9)</text>
<text transform="translate(637.69,1607.57) scale(0.8940,1)">26.1</text>
<text transform="translate(700.14,1607.57) scale(0.8820,1)">(328)</text>
<text transform="translate(862.69,1607.57) scale(0.8940,1)">16.7</text>
<text transform="translate(925.14,1607.57) scale(0.8820,1)">(109)</text>
<text transform="translate(1104.97,1607.57) scale(0.8940,1)">36.3</text>
<text transform="translate(1167.64,1607.57) scale(0.8820,1)">(219)</text>
<text transform="translate(1335.21,1609.57) scale(0.9330,1)">&lt;</text>
<text transform="translate(1356.32,1607.57) scale(0.8940,1)">.001</text>
<g transform="translate(1420.30,1591.17) scale(1.0)" fill="#222220"><path d="M -0.4 0 L -1.25 -5.65 A 1.25 1.25 0 0 1 1.25 -5.65 L 0.4 0 Z" transform="rotate(0)"/><path d="M -0.4 0 L -1.25 -5.65 A 1.25 1.25 0 0 1 1.25 -5.65 L 0.4 0 Z" transform="rotate(60)"/><path d="M -0.4 0 L -1.25 -5.65 A 1.25 1.25 0 0 1 1.25 -5.65 L 0.4 0 Z" transform="rotate(120)"/><path d="M -0.4 0 L -1.25 -5.65 A 1.25 1.25 0 0 1 1.25 -5.65 L 0.4 0 Z" transform="rotate(180)"/><path d="M -0.4 0 L -1.25 -5.65 A 1.25 1.25 0 0 1 1.25 -5.65 L 0.4 0 Z" transform="rotate(240)"/><path d="M -0.4 0 L -1.25 -5.65 A 1.25 1.25 0 0 1 1.25 -5.65 L 0.4 0 Z" transform="rotate(300)"/></g>
<g transform="translate(1436.30,1591.17) scale(1.0)" fill="#222220"><path d="M -0.4 0 L -1.25 -5.65 A 1.25 1.25 0 0 1 1.25 -5.65 L 0.4 0 Z" transform="rotate(0)"/><path d="M -0.4 0 L -1.25 -5.65 A 1.25 1.25 0 0 1 1.25 -5.65 L 0.4 0 Z" transform="rotate(60)"/><path d="M -0.4 0 L -1.25 -5.65 A 1.25 1.25 0 0 1 1.25 -5.65 L 0.4 0 Z" transform="rotate(120)"/><path d="M -0.4 0 L -1.25 -5.65 A 1.25 1.25 0 0 1 1.25 -5.65 L 0.4 0 Z" transform="rotate(180)"/><path d="M -0.4 0 L -1.25 -5.65 A 1.25 1.25 0 0 1 1.25 -5.65 L 0.4 0 Z" transform="rotate(240)"/><path d="M -0.4 0 L -1.25 -5.65 A 1.25 1.25 0 0 1 1.25 -5.65 L 0.4 0 Z" transform="rotate(300)"/></g>
<text transform="translate(41.33,1645.08) scale(0.9132,1)">Overweight (BMI 25–29.9)</text>
<text transform="translate(637.47,1645.08) scale(0.8940,1)">38.3</text>
<text transform="translate(700.14,1645.08) scale(0.8820,1)">(482)</text>
<text transform="translate(862.69,1645.08) scale(0.8940,1)">37.9</text>
<text transform="translate(925.14,1645.08) scale(0.8820,1)">(248)</text>
<text transform="translate(1105.19,1645.08) scale(0.8940,1)">38.7</text>
<text transform="translate(1167.64,1645.08) scale(0.8820,1)">(234)</text>
<text transform="translate(1356.32,1645.08) scale(0.8940,1)">.782</text>
<text transform="translate(41.38,1682.59) scale(0.8824,1)">Obese (BMI ≥ 30)</text>
<text transform="translate(637.47,1682.59) scale(0.8940,1)">33.3</text>
<text transform="translate(700.14,1682.59) scale(0.8820,1)">(419)</text>
<text transform="translate(862.02,1682.59) scale(0.8940,1)">43.4</text>
<text transform="translate(925.14,1682.59) scale(0.8820,1)">(284)</text>
<text transform="translate(1104.97,1682.59) scale(0.8940,1)">22.3</text>
<text transform="translate(1167.64,1682.59) scale(0.8820,1)">(135)</text>
<text transform="translate(1335.21,1684.59) scale(0.9330,1)">&lt;</text>
<text transform="translate(1356.32,1682.59) scale(0.8940,1)">.001</text>
<g transform="translate(1420.30,1666.19) scale(1.0)" fill="#222220"><path d="M -0.4 0 L -1.25 -5.65 A 1.25 1.25 0 0 1 1.25 -5.65 L 0.4 0 Z" transform="rotate(0)"/><path d="M -0.4 0 L -1.25 -5.65 A 1.25 1.25 0 0 1 1.25 -5.65 L 0.4 0 Z" transform="rotate(60)"/><path d="M -0.4 0 L -1.25 -5.65 A 1.25 1.25 0 0 1 1.25 -5.65 L 0.4 0 Z" transform="rotate(120)"/><path d="M -0.4 0 L -1.25 -5.65 A 1.25 1.25 0 0 1 1.25 -5.65 L 0.4 0 Z" transform="rotate(180)"/><path d="M -0.4 0 L -1.25 -5.65 A 1.25 1.25 0 0 1 1.25 -5.65 L 0.4 0 Z" transform="rotate(240)"/><path d="M -0.4 0 L -1.25 -5.65 A 1.25 1.25 0 0 1 1.25 -5.65 L 0.4 0 Z" transform="rotate(300)"/></g>
<g transform="translate(1436.30,1666.19) scale(1.0)" fill="#222220"><path d="M -0.4 0 L -1.25 -5.65 A 1.25 1.25 0 0 1 1.25 -5.65 L 0.4 0 Z" transform="rotate(0)"/><path d="M -0.4 0 L -1.25 -5.65 A 1.25 1.25 0 0 1 1.25 -5.65 L 0.4 0 Z" transform="rotate(60)"/><path d="M -0.4 0 L -1.25 -5.65 A 1.25 1.25 0 0 1 1.25 -5.65 L 0.4 0 Z" transform="rotate(120)"/><path d="M -0.4 0 L -1.25 -5.65 A 1.25 1.25 0 0 1 1.25 -5.65 L 0.4 0 Z" transform="rotate(180)"/><path d="M -0.4 0 L -1.25 -5.65 A 1.25 1.25 0 0 1 1.25 -5.65 L 0.4 0 Z" transform="rotate(240)"/><path d="M -0.4 0 L -1.25 -5.65 A 1.25 1.25 0 0 1 1.25 -5.65 L 0.4 0 Z" transform="rotate(300)"/></g>
<text transform="translate(7.83,1718.90) scale(0.8952,1)" style="font-size:20px">a</text>
<g transform="translate(15.40,1750.00) scale(0.89)" fill="#222220"><path d="M -0.4 0 L -1.25 -5.65 A 1.25 1.25 0 0 1 1.25 -5.65 L 0.4 0 Z" transform="rotate(0)"/><path d="M -0.4 0 L -1.25 -5.65 A 1.25 1.25 0 0 1 1.25 -5.65 L 0.4 0 Z" transform="rotate(60)"/><path d="M -0.4 0 L -1.25 -5.65 A 1.25 1.25 0 0 1 1.25 -5.65 L 0.4 0 Z" transform="rotate(120)"/><path d="M -0.4 0 L -1.25 -5.65 A 1.25 1.25 0 0 1 1.25 -5.65 L 0.4 0 Z" transform="rotate(180)"/><path d="M -0.4 0 L -1.25 -5.65 A 1.25 1.25 0 0 1 1.25 -5.65 L 0.4 0 Z" transform="rotate(240)"/><path d="M -0.4 0 L -1.25 -5.65 A 1.25 1.25 0 0 1 1.25 -5.65 L 0.4 0 Z" transform="rotate(300)"/></g>
<g transform="translate(309.60,1750.00) scale(0.89)" fill="#222220"><path d="M -0.4 0 L -1.25 -5.65 A 1.25 1.25 0 0 1 1.25 -5.65 L 0.4 0 Z" transform="rotate(0)"/><path d="M -0.4 0 L -1.25 -5.65 A 1.25 1.25 0 0 1 1.25 -5.65 L 0.4 0 Z" transform="rotate(60)"/><path d="M -0.4 0 L -1.25 -5.65 A 1.25 1.25 0 0 1 1.25 -5.65 L 0.4 0 Z" transform="rotate(120)"/><path d="M -0.4 0 L -1.25 -5.65 A 1.25 1.25 0 0 1 1.25 -5.65 L 0.4 0 Z" transform="rotate(180)"/><path d="M -0.4 0 L -1.25 -5.65 A 1.25 1.25 0 0 1 1.25 -5.65 L 0.4 0 Z" transform="rotate(240)"/><path d="M -0.4 0 L -1.25 -5.65 A 1.25 1.25 0 0 1 1.25 -5.65 L 0.4 0 Z" transform="rotate(300)"/></g>
<g transform="translate(325.50,1750.00) scale(0.89)" fill="#222220"><path d="M -0.4 0 L -1.25 -5.65 A 1.25 1.25 0 0 1 1.25 -5.65 L 0.4 0 Z" transform="rotate(0)"/><path d="M -0.4 0 L -1.25 -5.65 A 1.25 1.25 0 0 1 1.25 -5.65 L 0.4 0 Z" transform="rotate(60)"/><path d="M -0.4 0 L -1.25 -5.65 A 1.25 1.25 0 0 1 1.25 -5.65 L 0.4 0 Z" transform="rotate(120)"/><path d="M -0.4 0 L -1.25 -5.65 A 1.25 1.25 0 0 1 1.25 -5.65 L 0.4 0 Z" transform="rotate(180)"/><path d="M -0.4 0 L -1.25 -5.65 A 1.25 1.25 0 0 1 1.25 -5.65 L 0.4 0 Z" transform="rotate(240)"/><path d="M -0.4 0 L -1.25 -5.65 A 1.25 1.25 0 0 1 1.25 -5.65 L 0.4 0 Z" transform="rotate(300)"/></g>
<text transform="translate(19.56,1730.70) scale(0.9594,1)" style="font-size:30px">Values shown as % (n) unless otherwise noted.</text>
<text transform="translate(23.56,1765.50) scale(0.9610,1)" style="font-size:30px">Significant at α &lt; .05.</text>
<text transform="translate(333.06,1765.50) scale(0.9632,1)" style="font-size:30px">Significant at α &lt; .01.</text>
<text transform="translate(9.26,1801.60) scale(0.9616,1)" style="font-size:30px">Abbreviations: BMI = body mass index,</text>
<text transform="translate(509.25,1801.60) scale(0.9785,1)" style="font-size:30px">NOS = not otherwise specified,</text>
<text transform="translate(910.33,1801.60) scale(0.9472,1)" style="font-size:30px">PANSS = Positive and Negative Syndrome</text>
<text transform="translate(32.73,1836.40) scale(0.9148,1)" style="font-size:30px">Scale.</text>
</svg>
</body></html>
